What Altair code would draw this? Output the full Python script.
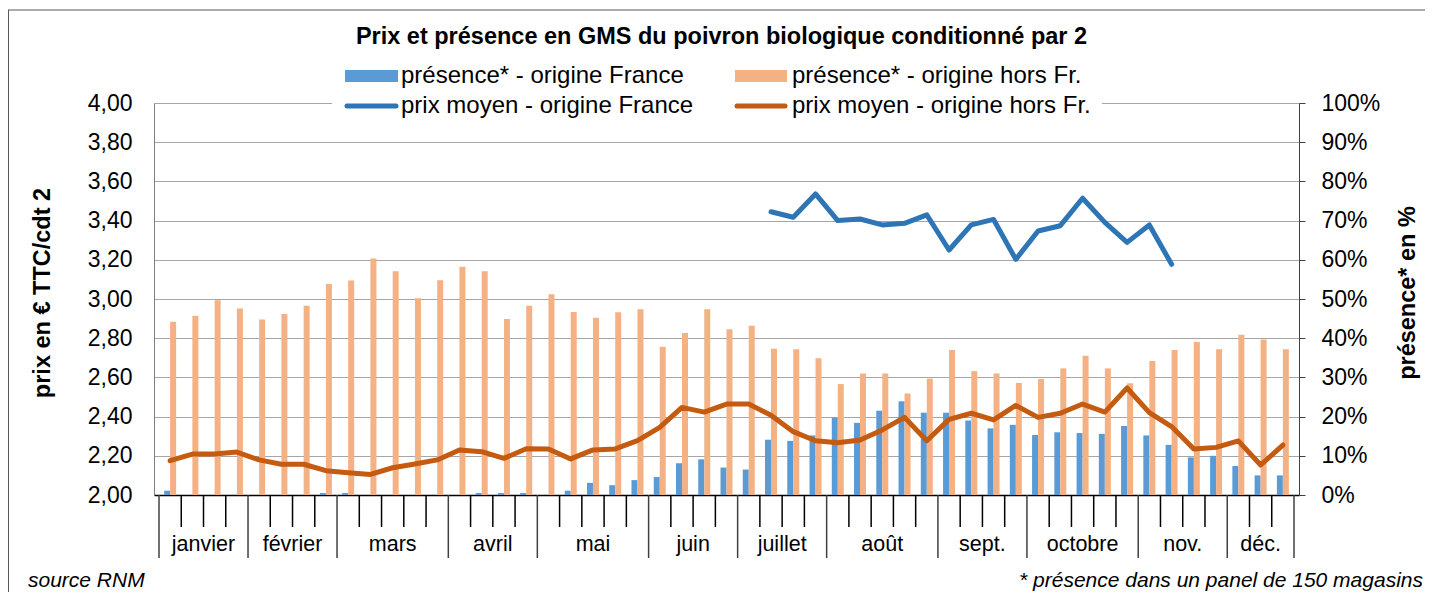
import altair as alt
import pandas as pd

# ---------------- data ----------------
weeks = list(range(1, 52))
presence_fr = [1.1, 0, 0, 0, 0, 0, 0, 0.5, 0.5, 0, 0, 0, 0, 0, 0.5, 0.5, 0.5,
               0, 1.1, 3.1, 2.5, 3.8, 4.6, 8.1, 9.1, 7.0, 6.5, 14.1, 13.8, 15.2,
               19.7, 18.4, 21.5, 23.9, 21.0, 21.0, 19.0, 17.0, 17.9, 15.3, 16.0,
               15.8, 15.6, 17.6, 15.2, 12.8, 9.6, 10.0, 7.4, 5.0, 5.0]
presence_hors = [44.2, 45.7, 49.7, 47.6, 44.8, 46.2, 48.3, 53.8, 54.7, 60.3, 57.1,
                 50.2, 54.8, 58.2, 57.1, 44.9, 48.3, 51.2, 46.7, 45.2, 46.6, 47.4,
                 37.8, 41.3, 47.4, 42.3, 43.2, 37.3, 37.2, 34.9, 28.3, 31.0, 31.0,
                 25.9, 29.7, 37.0, 31.6, 31.0, 28.6, 29.6, 32.3, 35.5, 32.3, 28.5,
                 34.2, 37.0, 39.0, 37.2, 40.9, 39.7, 37.2]
prix_hors = [2.175, 2.209, 2.209, 2.219, 2.179, 2.157, 2.157, 2.124, 2.114, 2.105,
             2.139, 2.158, 2.179, 2.230, 2.221, 2.187, 2.236, 2.235, 2.184, 2.230,
             2.235, 2.277, 2.345, 2.447, 2.423, 2.464, 2.464, 2.407, 2.323, 2.277,
             2.267, 2.281, 2.332, 2.396, 2.277, 2.386, 2.417, 2.383, 2.457, 2.396,
             2.417, 2.464, 2.423, 2.546, 2.420, 2.349, 2.235, 2.243, 2.276, 2.153,
             2.255]
prix_fr_weeks = list(range(28, 47))
prix_fr = [3.445, 3.417, 3.536, 3.400, 3.408, 3.378, 3.386, 3.429, 3.250, 3.378,
           3.406, 3.202, 3.347, 3.374, 3.514, 3.391, 3.289, 3.378, 3.177]
months = ["janvier", "février", "mars", "avril", "mai", "juin", "juillet",
          "août", "sept.", "octobre", "nov.", "déc."]
month_weeks = [4, 4, 5, 4, 5, 4, 4, 5, 4, 5, 4, 3]
left_ticks = [2.0, 2.2, 2.4, 2.6, 2.8, 3.0, 3.2, 3.4, 3.6, 3.8, 4.0]
right_ticks = [0, 10, 20, 30, 40, 50, 60, 70, 80, 90, 100]

title_txt = "Prix et présence en GMS du poivron biologique conditionné par 2"
legend_labels = ["présence* - origine France", "présence* - origine hors Fr.",
                 "prix moyen - origine France", "prix moyen - origine hors Fr."]
left_title = "prix en € TTC/cdt 2"
right_title = "présence* en %"
source_txt = "source RNM"
note_txt = "* présence dans un panel de 150 magasins"

# ---------------- build tables ----------------
W, H = 1145, 392
FONT = "Liberation Sans"
C_BLUE_BAR, C_ORANGE_BAR = "#5B9BD5", "#F4B183"
C_BLUE_LINE, C_ORANGE_LINE = "#2E75B6", "#C55A11"

df = pd.DataFrame({"week": weeks, "pfr": presence_fr, "phors": presence_hors,
                   "prix_hors": prix_hors})
df_fr = pd.DataFrame({"week": prix_fr_weeks, "prix": prix_fr})

bounds = [0.5]
for n in month_weeks:
    bounds.append(bounds[-1] + n)
centers = [(bounds[i] + bounds[i + 1]) / 2 for i in range(len(months))]
minor = [w + 0.5 for w in weeks[:-1] if (w + 0.5) not in bounds]
df_major = pd.DataFrame({"b": bounds})
df_minor = pd.DataFrame({"b": minor})
df_months = pd.DataFrame({"c": centers, "m": months})
one = pd.DataFrame({"k": [0]})

xscale = alt.Scale(domain=[0.5, 51.5], nice=False, zero=False)
xaxis = alt.Axis(title=None, labels=False, ticks=False, grid=False,
                 domainColor="#000000", domainWidth=1.5)


def X(field):
    return alt.X(f"{field}:Q", scale=xscale, axis=xaxis)


# ---------------- lines (left axis) ----------------
ys_left = alt.Scale(domain=[2, 4], nice=False, zero=False)
left_axis = alt.Axis(orient="left", values=left_ticks,
                     labelExpr="replace(format(datum.value, '.2f'), '.', ',')",
                     grid=True, gridColor="#a6a6a6", gridWidth=1, ticks=False,
                     tickSize=0, domainColor="#7f7f7f", domainWidth=1,
                     labelPadding=22, labelFont=FONT, labelFontSize=23,
                     labelColor="#000000", title=None)
# invisible carrier of the left axis + grid (drawn first, under the bars)
grid_layer = alt.Chart(df).mark_line(opacity=0).encode(
    x=X("week"), y=alt.Y("prix_hors:Q", scale=ys_left, axis=left_axis))

# ---------------- bars (right axis) ----------------
ys_right = alt.Scale(domain=[0, 100], nice=False, zero=True)
right_axis = alt.Axis(orient="right", values=right_ticks,
                      labelExpr="datum.value + '%'", grid=False, tickSize=6,
                      tickColor="#404040", domainColor="#404040",
                      labelPadding=16, labelFont=FONT, labelFontSize=23,
                      labelColor="#000000", title=None)
bar_fr = alt.Chart(df).mark_bar(width=6, xOffset=-3, color=C_BLUE_BAR).encode(
    x=X("week"), y=alt.Y("pfr:Q", scale=ys_right, axis=right_axis))
bar_hors = alt.Chart(df).mark_bar(width=6, xOffset=3, color=C_ORANGE_BAR).encode(
    x=X("week"), y=alt.Y("phors:Q", scale=ys_right, axis=None))

line_hors = alt.Chart(df).mark_line(color=C_ORANGE_LINE, strokeWidth=5,
                                    strokeJoin="round", strokeCap="round").encode(
    x=X("week"), y=alt.Y("prix_hors:Q", scale=ys_left, axis=None))
line_fr = alt.Chart(df_fr).mark_line(color=C_BLUE_LINE, strokeWidth=5,
                                     strokeJoin="round", strokeCap="round").encode(
    x=X("week"), y=alt.Y("prix:Q", scale=ys_left, axis=None))

# ---------------- category axis ----------------
minor_rules = alt.Chart(df_minor).mark_rule(color="#000000", strokeWidth=1.5).encode(
    x=X("b"), y=alt.value(H), y2=alt.value(H + 32))
major_rules = alt.Chart(df_major).mark_rule(color="#404040", strokeWidth=1.5).encode(
    x=X("b"), y=alt.value(H), y2=alt.value(H + 63))
month_text = alt.Chart(df_months).mark_text(
    font=FONT, fontSize=21.5, baseline="alphabetic", align="center",
    color="#000000").encode(x=X("c"), y=alt.value(H + 56), text="m:N")

# ---------------- texts, legend, frame ----------------
def txt(s, x, y, **kw):
    return alt.Chart(one).mark_text(text=s, font=FONT, color="#000000", **kw).encode(
        x=alt.value(x), y=alt.value(y))


title = txt(title_txt, 567.5, -66, fontSize=23.5, fontWeight="bold",
            align="center", baseline="middle")
ltitle = txt(left_title, -111, 190, fontSize=23.5, fontWeight="bold",
             align="center", baseline="middle", angle=270)
rtitle = txt(right_title, 1254, 190, fontSize=23.5, fontWeight="bold",
             align="center", baseline="middle", angle=270)
src = txt(source_txt, -126, 484, fontSize=21, fontStyle="italic",
          align="left", baseline="alphabetic")
note = txt(note_txt, 1269, 484, fontSize=21, fontStyle="italic",
           align="right", baseline="alphabetic")

legend_bg = alt.Chart(one).mark_rect(color="white").encode(
    x=alt.value(178), x2=alt.value(948), y=alt.value(-43), y2=alt.value(18))
leg_r1 = alt.Chart(one).mark_rect(color=C_BLUE_BAR).encode(
    x=alt.value(191), x2=alt.value(244), y=alt.value(-33), y2=alt.value(-21))
leg_r2 = alt.Chart(one).mark_rect(color=C_ORANGE_BAR).encode(
    x=alt.value(581), x2=alt.value(633), y=alt.value(-33), y2=alt.value(-21))
leg_l1 = alt.Chart(one).mark_rule(color=C_BLUE_LINE, strokeWidth=5, strokeCap="round").encode(
    x=alt.value(193), x2=alt.value(242), y=alt.value(3))
leg_l2 = alt.Chart(one).mark_rule(color=C_ORANGE_LINE, strokeWidth=5, strokeCap="round").encode(
    x=alt.value(583), x2=alt.value(631), y=alt.value(3))
leg_t = [txt(legend_labels[0], 247, -27, fontSize=24, align="left", baseline="middle"),
         txt(legend_labels[1], 638, -27, fontSize=24, align="left", baseline="middle"),
         txt(legend_labels[2], 247, 3, fontSize=24, align="left", baseline="middle"),
         txt(legend_labels[3], 638, 3, fontSize=24, align="left", baseline="middle")]

frame_top = alt.Chart(one).mark_rule(color="#595959", strokeWidth=1).encode(
    x=alt.value(-146), x2=alt.value(W + 126), y=alt.value(-93))
frame_left = alt.Chart(one).mark_rule(color="#595959", strokeWidth=1).encode(
    x=alt.value(-145.5), y=alt.value(-93), y2=alt.value(H + 97))

chart = alt.layer(
    grid_layer, bar_fr, bar_hors, line_hors, line_fr,
    minor_rules, major_rules, month_text,
    legend_bg, leg_r1, leg_r2, leg_l1, leg_l2, *leg_t,
    title, ltitle, rtitle, src, note, frame_top, frame_left
).resolve_scale(y="independent").properties(
    width=W, height=H,
    padding={"left": 146, "top": 95, "right": 126, "bottom": 97},
    autosize=alt.AutoSizeParams(type="none"),
).configure_view(stroke=None)

chart.save("out.html", embed_options={"renderer": "svg", "actions": False})
